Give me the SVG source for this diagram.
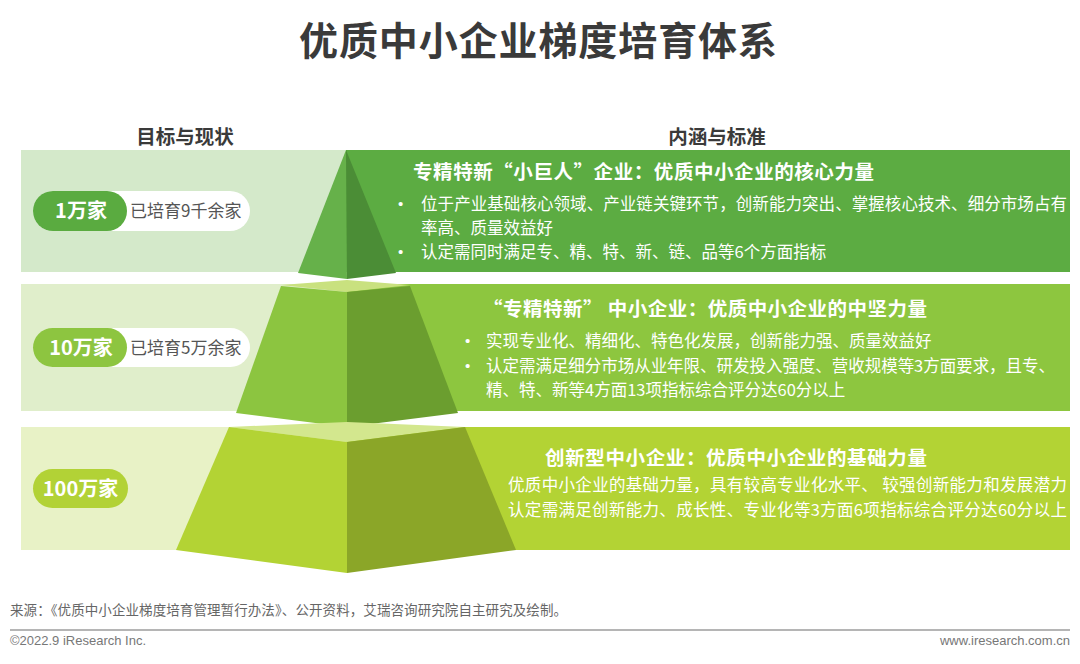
<svg xmlns="http://www.w3.org/2000/svg" width="1080" height="664" viewBox="0 0 1080 664">
<style>
text{font-family:"Noto Sans CJK SC","Noto Sans",sans-serif}
.title{font-size:39px;font-weight:700;fill:#3a3a3a}
.hdr{font-size:19.5px;font-weight:700;fill:#3a3a3a}
.pill{font-size:20px;font-weight:700;fill:#fff}
.stat{font-size:17px;fill:#555}
.bt{font-size:19.5px;font-weight:700;fill:#fff}
.bl{font-size:16.5px;fill:#fff}
.dot{font-size:15px;fill:#fff;font-family:"Liberation Sans",Arial,sans-serif}
.foot{font-size:13.5px;fill:#666}
.copy{font-size:13px;fill:#777;font-family:"Liberation Sans",Arial,sans-serif}
</style>
<rect width="1080" height="664" fill="#fff"/>
<g id="title"><text class="title" x="538" y="55" text-anchor="middle" textLength="478">优质中小企业梯度培育体系</text></g>
<g id="headers">
<text class="hdr" x="185" y="144" text-anchor="middle">目标与现状</text>
<text class="hdr" x="717" y="144" text-anchor="middle">内涵与标准</text>
</g>
<g id="band1">
<rect x="21" y="150" width="326" height="122" fill="#d4e9ca"/>
<rect x="346" y="150" width="724" height="122" fill="#5cac42"/>
</g>
<g id="band2">
<rect x="21" y="284" width="326" height="127" fill="#e0eecb"/>
<rect x="346" y="284" width="724" height="127" fill="#8dc63f"/>
</g>
<g id="band3">
<rect x="21" y="427" width="326" height="123" fill="#e8f2c6"/>
<rect x="346" y="427" width="724" height="123" fill="#b3d334"/>
</g>
<g id="pyramid">
<polygon points="346,150 298,273 347,279" fill="#66b14a"/>
<polygon points="346,150 347,279 396,273" fill="#4b8d36"/>
<polygon points="281,285 347,280 410,285 347,292" fill="#c9e17f"/>
<polygon points="281,286 347,292 347,427 236,413" fill="#8cc540"/>
<polygon points="347,292 410,286 458,413 347,427" fill="#6b9e2f"/>
<polygon points="229,427 347,422 465,427 347,442" fill="#d3e78e"/>
<polygon points="229,427 347,442 347,573 176,550" fill="#b3d334"/>
<polygon points="347,442 465,427 516,550 347,573" fill="#8ba628"/>
</g>
<g id="node1">
<rect x="33" y="191" width="217" height="40" rx="20" fill="#fff"/>
<rect x="33" y="191" width="94" height="40" rx="20" fill="#5aab40"/>
<text class="pill" x="81" y="218" text-anchor="middle">1万家</text>
<text class="stat" x="130" y="217">已培育9千余家</text>
<text class="bt" x="413" y="179" textLength="461">专精特新“小巨人”企业：优质中小企业的核心力量</text>
<text class="dot" x="398" y="209">•</text>
<text class="bl" x="421" y="210" textLength="646">位于产业基础核心领域、产业链关键环节，创新能力突出、掌握核心技术、细分市场占有</text>
<text class="bl" x="421" y="234">率高、质量效益好</text>
<text class="dot" x="398" y="257">•</text>
<text class="bl" x="421" y="258">认定需同时满足专、精、特、新、链、品等6个方面指标</text>
</g>
<g id="node2">
<rect x="33" y="328" width="217" height="39" rx="19.5" fill="#fff"/>
<rect x="33" y="328" width="94" height="39" rx="19.5" fill="#8dc540"/>
<text class="pill" x="81" y="355" text-anchor="middle">10万家</text>
<text class="stat" x="130" y="354">已培育5万余家</text>
<text class="bt" x="483" y="316" textLength="444">“专精特新” 中小企业：优质中小企业的中坚力量</text>
<text class="dot" x="465" y="346">•</text>
<text class="bl" x="486" y="347">实现专业化、精细化、特色化发展，创新能力强、质量效益好</text>
<text class="dot" x="465" y="371">•</text>
<text class="bl" x="486" y="372" textLength="569">认定需满足细分市场从业年限、研发投入强度、营收规模等3方面要求，且专、</text>
<text class="bl" x="486" y="396">精、特、新等4方面13项指标综合评分达60分以上</text>
</g>
<g id="node3">
<rect x="33" y="469" width="95" height="39" rx="19.5" fill="#b2d236"/>
<text class="pill" x="80.5" y="496" text-anchor="middle">100万家</text>
<text class="bt" x="545" y="465" textLength="382">创新型中小企业：优质中小企业的基础力量</text>
<text class="bl" x="508" y="491" textLength="559">优质中小企业的基础力量，具有较高专业化水平、 较强创新能力和发展潜力</text>
<text class="bl" x="508" y="516" textLength="559">认定需满足创新能力、成长性、专业化等3方面6项指标综合评分达60分以上</text>
</g>
<g id="connectors"/>
<g id="footer">
<text class="foot" x="10" y="615" textLength="557">来源：《优质中小企业梯度培育管理暂行办法》、公开资料，艾瑞咨询研究院自主研究及绘制。</text>
<line x1="10" y1="630" x2="1070" y2="630" stroke="#b5b5b5" stroke-width="2"/>
<text class="copy" x="10" y="645">©2022.9 iResearch Inc.</text>
<text class="copy" x="1070" y="645" text-anchor="end">www.iresearch.com.cn</text>
</g>
</svg>
